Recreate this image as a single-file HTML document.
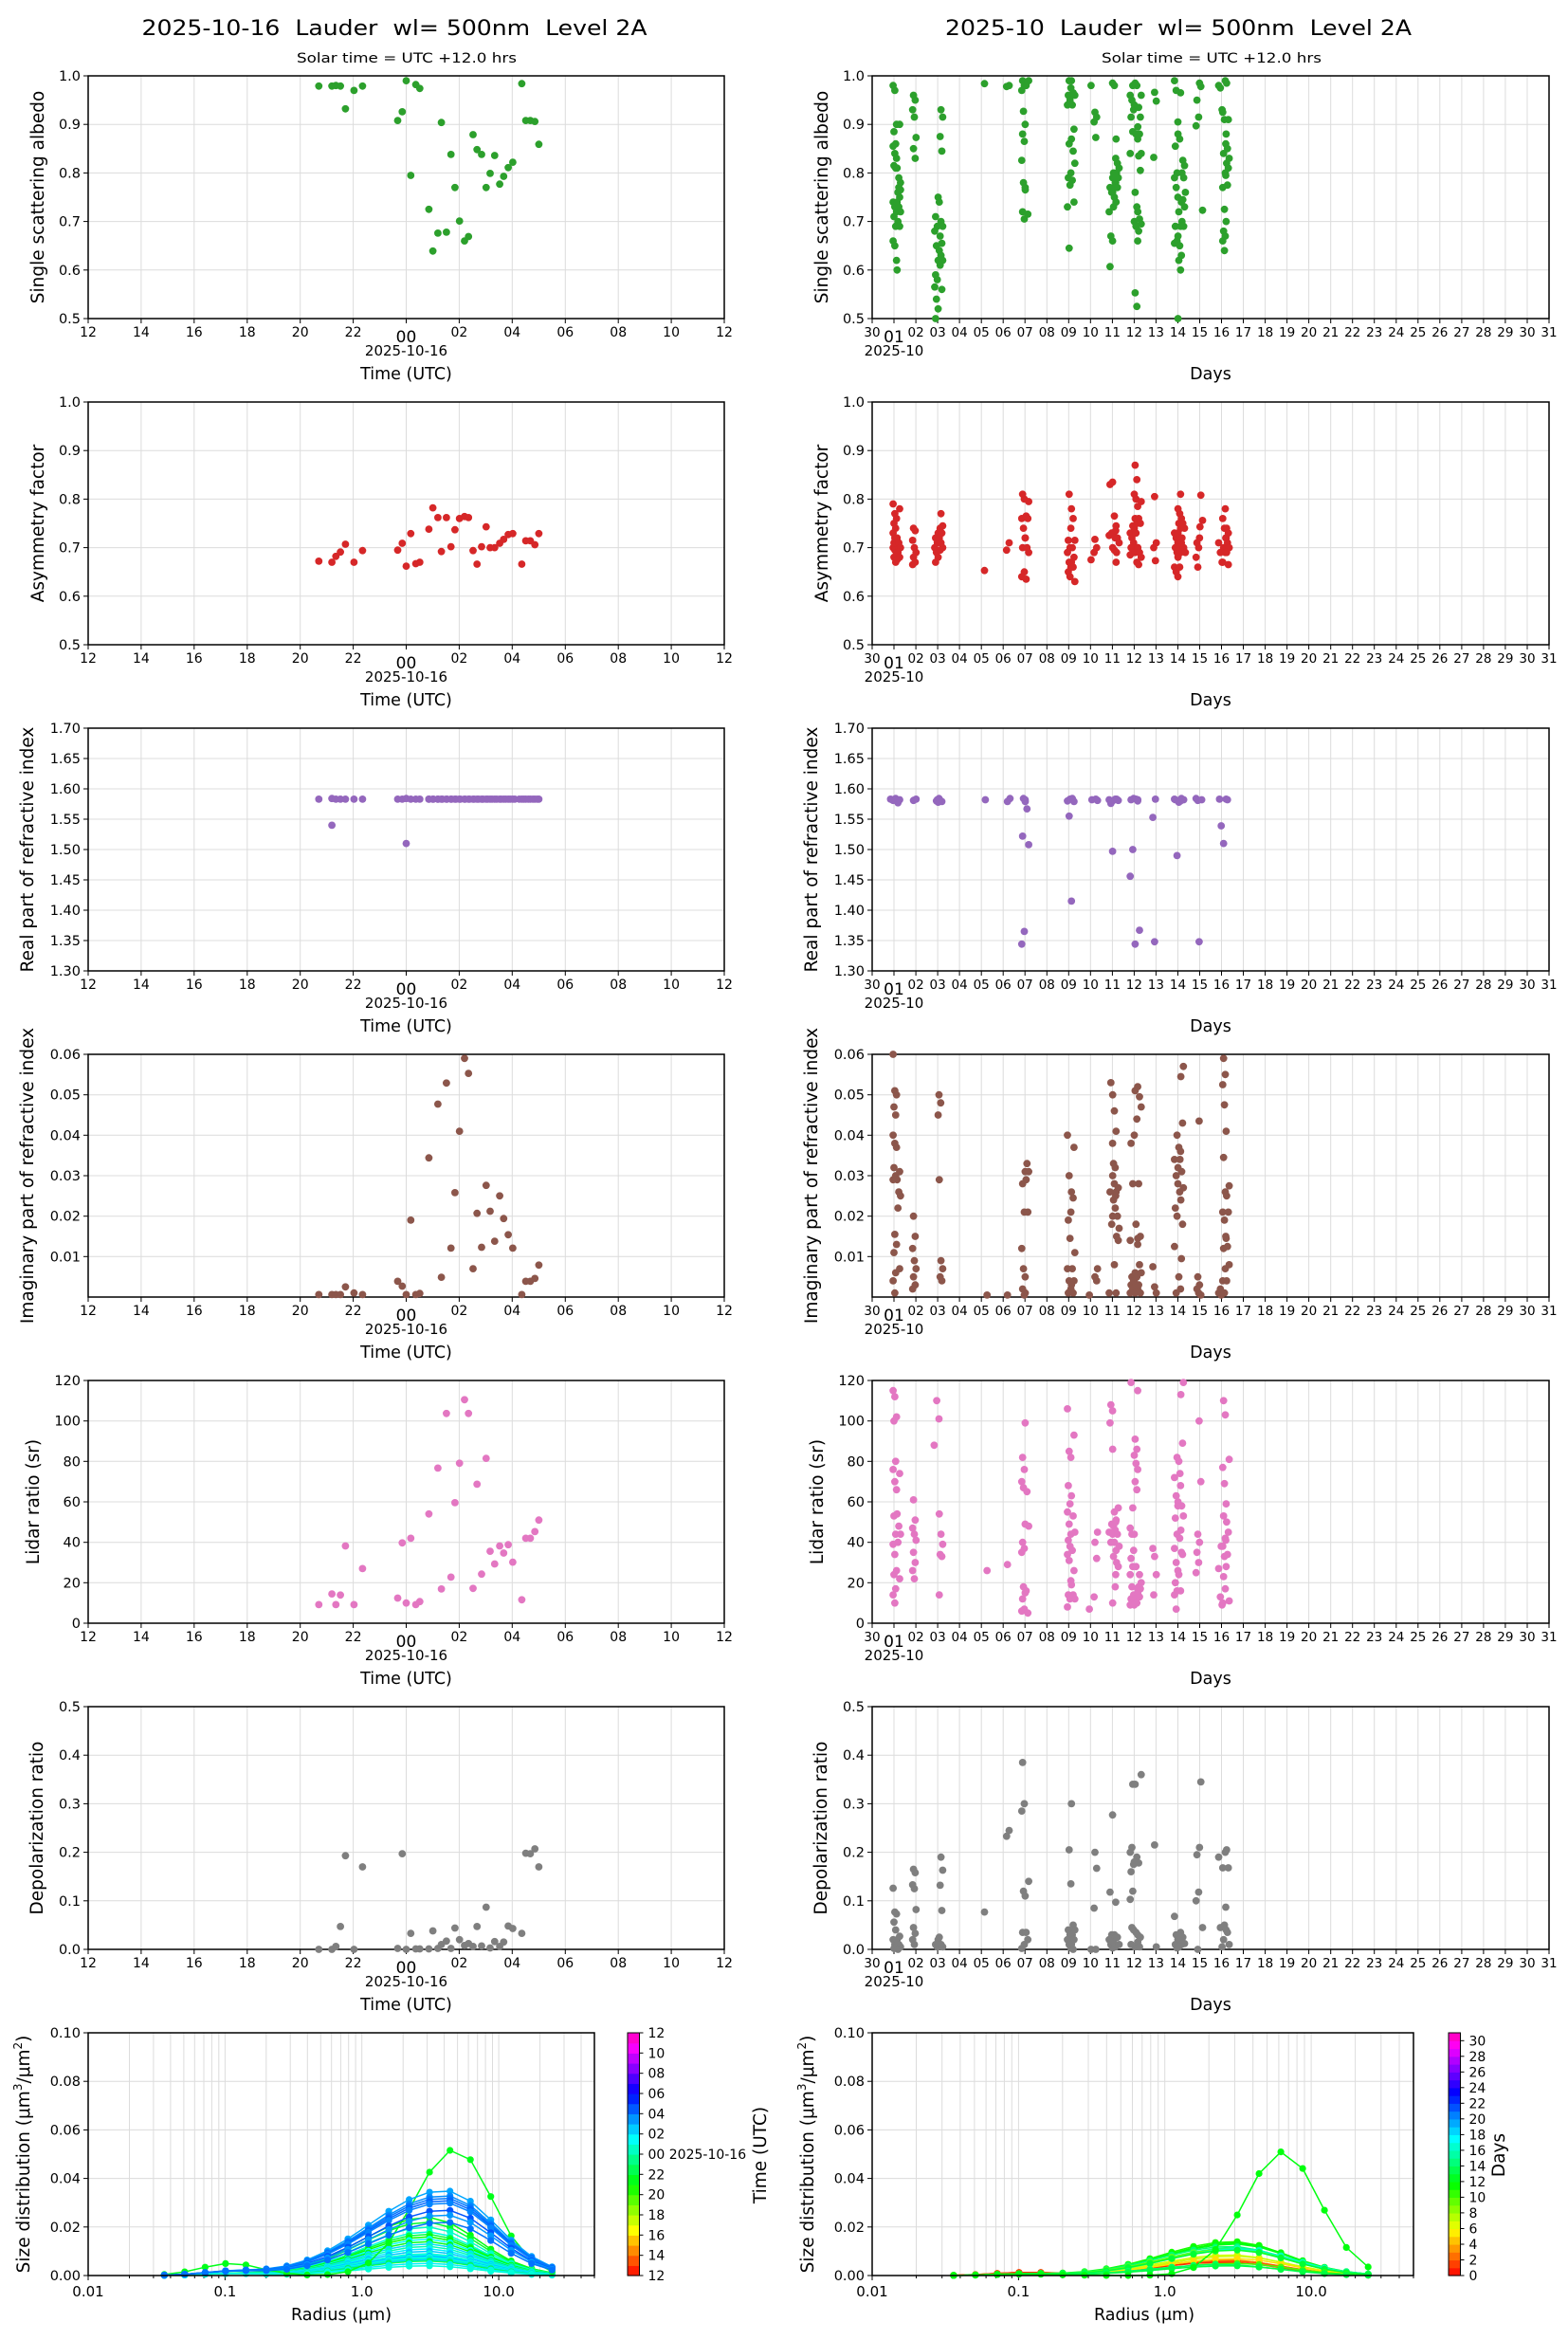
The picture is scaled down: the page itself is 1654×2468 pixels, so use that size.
<!DOCTYPE html>
<html><head><meta charset="utf-8"><style>html,body{margin:0;padding:0;background:#fff}svg{display:block}</style></head>
<body>
<svg id="s" xmlns="http://www.w3.org/2000/svg" width="1654" height="2468" viewBox="0 0 1654 2468"></svg>
<script>
var S='';
var FF='font-family="DejaVu Sans, Liberation Sans, sans-serif"';
function T(x,y,str,size,anc,extra){S+='<text x="'+x.toFixed(1)+'" y="'+y.toFixed(1)+'" font-size="'+size+'" text-anchor="'+(anc||'middle')+'" '+FF+' fill="#000" '+(extra||'')+'>'+str+'</text>';}
function L(x1,y1,x2,y2,c,w){S+='<line x1="'+x1.toFixed(1)+'" y1="'+y1.toFixed(1)+'" x2="'+x2.toFixed(1)+'" y2="'+y2.toFixed(1)+'" stroke="'+c+'" stroke-width="'+w+'"/>';}
function C(x,y,r,c){S+='<circle cx="'+x.toFixed(1)+'" cy="'+y.toFixed(1)+'" r="'+r+'" fill="'+c+'"/>';}
function YL(x,y,str,size,len){T(x,y,str,size,'middle','transform="rotate(-90 '+x+' '+y+')" dominant-baseline="middle"'+(len?' textLength="'+len+'" lengthAdjust="spacingAndGlyphs"':''));}
function hsl(v){return 'hsl('+(v*318).toFixed(0)+',100%,50%)';}

var LX0=93,LX1=764,RX0=920,RX1=1634;
var rows=[
 {lo:0.5,hi:1.0,ticks:[0.5,0.6,0.7,0.8,0.9,1.0],dec:1,lab:'Single scattering albedo',lx:41,col:'#2ca02c',len:233},
 {lo:0.5,hi:1.0,ticks:[0.5,0.6,0.7,0.8,0.9,1.0],dec:1,lab:'Asymmetry factor',lx:41,col:'#d62728',len:131},
 {lo:1.3,hi:1.7,ticks:[1.3,1.35,1.4,1.45,1.5,1.55,1.6,1.65,1.7],dec:2,lab:'Real part of refractive index',lx:30,col:'#9467bd',len:202},
 {lo:0,hi:0.06,ticks:[0.01,0.02,0.03,0.04,0.05,0.06],dec:2,lab:'Imaginary part of refractive index',lx:30,col:'#8c564b',len:0},
 {lo:0,hi:120,ticks:[0,20,40,60,80,100,120],dec:0,lab:'Lidar ratio (sr)',lx:36,col:'#e377c2',len:0},
 {lo:0,hi:0.5,ticks:[0,0.1,0.2,0.3,0.4,0.5],dec:1,lab:'Depolarization ratio',lx:40,col:'#7f7f7f',len:0}
];
function rowTop(i){return 80+344*i;}
var H=256;

function frame(x0,y0,x1,y1){S+='<rect x="'+x0+'" y="'+y0+'" width="'+(x1-x0)+'" height="'+(y1-y0)+'" fill="none" stroke="#000" stroke-width="1.5"/>';}

function hx(h){return LX0+(h+12)/24*(LX1-LX0);}
function dx(d){return RX0+d/31*(RX1-RX0);}

function panel(i,side){
 var r=rows[i],y0=rowTop(i),y1=y0+H;
 var x0=side?RX0:LX0,x1=side?RX1:LX1;
 function Y(v){return y1-(v-r.lo)/(r.hi-r.lo)*H;}
 var xt=[];
 if(!side){for(var h=-12;h<=12;h+=2){var lab=((h+24)%24);lab=(lab<10?'0':'')+lab;xt.push([hx(h),lab,h==0]);}}
 else{for(var d=0;d<=31;d++){var lab=d==0?'30':(d<10?'0'+d:''+d);xt.push([dx(d),lab,d==1]);}}
 xt.forEach(function(t){L(t[0],y0,t[0],y1,'#dcdcdc',1);});
 r.ticks.forEach(function(v){L(x0,Y(v),x1,Y(v),'#dcdcdc',1);});
 frame(x0,y0,x1,y1);
 xt.forEach(function(t){L(t[0],y1,t[0],y1+5,'#000',1);
   if(t[2]) T(t[0],y1+25,t[1],17); else T(t[0],y1+19,t[1],side?13.5:14);});
 r.ticks.forEach(function(v){L(x0-5,Y(v),x0,Y(v),'#000',1);T(x0-8,Y(v)+5,v.toFixed(r.dec),14.5,'end');});
 if(!side){T(hx(0),y1+39,'2025-10-16',15);T(hx(0),y1+64,'Time (UTC)',17.5);}
 else{T(dx(1),y1+39,'2025-10',15);T(1277,y1+64,'Days',17.5);}
 YL((side?827:0)+r.lx,y0+H/2,r.lab,18.5);
 return Y;
}

var lx=[634,660,668,677,687,704,721,791,800,808,817,827,835,853,861,871,878,888,897,905,914,924,932,941,949,958,967,975,984,994,1002,1011,1020,1038,1046,1055,1064,1072];
var N=NaN;
var ld=[
[.979,.979,.98,.979,.932,.970,.979,.908,.926,.99,.795,.982,.974,.725,.639,.676,.904,.678,.838,.77,.701,.660,.669,.879,.848,.838,.77,.799,.836,.777,.793,.811,.822,.984,.908,.908,.906,.859],
[.672,.670,.682,.691,.707,.670,.694,.695,.709,.662,.729,.667,.670,.738,.782,.762,.692,.762,.702,.737,.760,.764,.762,.694,.666,.702,.743,.700,.700,.709,.717,.727,.729,.666,.714,.714,.706,.729],
null,
[.0006,.0006,.0006,.0006,.0025,.001,.0006,.0039,.0027,.0006,.019,.0006,.0009,.0344,N,.0477,.0049,.0529,.0121,.0258,.041,.059,.0553,.007,.0207,.0123,.0276,.0212,.0138,.025,.0194,.0154,.0121,.0006,.0039,.0039,.0046,.0079],
[9.2,14.5,9.2,13.9,38.2,9.2,27,12.4,39.7,10,42,9.2,10.7,54,N,76.7,16.9,103.7,22.8,59.6,79.1,110.5,103.7,17.2,68.7,24.3,81.5,35.6,29.3,38.2,34.7,38.8,30.2,11.6,42,42,45.3,51],
[0,0,.006,.047,.193,0,.17,.002,.197,0,.033,.001,.001,.001,.038,.002,.01,.017,.002,.044,.02,.008,.012,.006,.047,.007,.087,.003,.016,.006,.015,.048,.043,.033,.198,.197,.207,.17]
];
function lhour(x){return (x-175)*24/1266-12;}

var rd=[
"220:.98,.97,.90,.885,.86,.855,.84,.83,.815,.81,.74,.73,.72,.71,.69,.66,.65,.62;228:.90,.81,.79,.78,.76,.75,.74,.73,.72,.70,.69,.60,.77,.765;259:.96,.95,.93,.915,.873,.85,.83;303:.75,.71,.69,.68,.65,.62,.59,.58,.565,.54,.52,.5;312:.93,.915,.875,.845,.74,.70,.69,.67,.655,.64,.63,.62,.61,.56;402:.984;446:.98,.978;476:.99,.98,.97,.927,.90,.88,.865,.826,.78,.77,.72,.705;483:.99,.98,.715,.765;567:.99,.975,.96,.95,.94,.86,.80,.79,.775,.73,.645;575:.99,.965,.96,.94,.89,.87,.845,.82,.785,.74;609:.98;620:.925,.915,.905,.873;650:.985,.77,.76,.72,.67,.66,.607;657:.98,.87,.80,.78,.76,.75,.74,.73,.77,.79;663:.83,.82,.81,.80,.79,.78,.77;692:.98,.96,.95,.93,.915,.885,.84;700:.985,.98,.94,.88,.87,.76,.73,.70,.69,.66,.553,.525;707:.96,.935,.915,.895,.88,.84,.835,.805,.72,.705,.695,.68;737:.966,.948,.832;780:.99,.97,.905,.855,.80,.79,.77,.75,.69,.66,.655;787:.965,.88,.87,.74,.72,.69,.67,.65,.63,.62,.60,.5;795:.826,.815,.80,.79,.76,.745,.73,.70,.69;823:.985,.95,.915,.897;829:.978,.723;868:.98,.975,.93;876:.99,.925,.91,.88,.84,.80,.77,.725,.70,.68,.67,.66,.64;882:.985,.91,.86,.85,.83,.82,.81,.795,.775",
"220:.79,.77,.76,.75,.74,.73,.72,.715,.71,.705,.70,.695,.69,.68,.67;228:.78,.72,.71,.70,.69,.68,.675;259:.74,.735,.715,.70,.69,.68,.67,.665;303:.73,.72,.71,.70,.69,.68,.67;312:.77,.745,.74,.73,.72,.71,.70,.695;402:.653;446:.71,.695;476:.81,.80,.76,.74,.72,.70,.65,.64;483:.795,.765,.76,.72,.70,.69,.635;567:.81,.74,.715,.70,.69,.67,.66,.65,.64;575:.78,.76,.715,.70,.68,.67,.66,.63;609:.675;620:.717,.70,.69;650:.835,.83,.73,.725;657:.765,.745,.73,.72,.70,.695,.67;663:.735,.72,.71,.69;692:.745,.73,.72,.71,.70,.69,.685;700:.87,.84,.81,.80,.785,.76,.75,.74,.73,.70,.69,.67;707:.795,.76,.75,.70,.69,.68,.665;737:.805,.71,.70,.673;780:.73,.72,.71,.70,.69,.66,.65,.64;787:.81,.78,.77,.76,.75,.74,.73,.72,.71,.70,.69,.68,.66;795:.75,.74,.72,.70,.69;823:.72,.71,.70,.68,.66;829:.808,.756,.743;868:.71,.69,.67;876:.78,.76,.74,.72,.70,.69,.67;882:.74,.73,.72,.71,.70,.69,.665",
"215:1.583,1.582;220:1.584,1.581,1.583;228:1.577,1.582;259:1.583,1.581;303:1.58,1.578;308:1.582,1.584;312:1.579,1.583;402:1.582;446:1.584,1.579;476:1.584,1.582,1.522,1.365,1.344;483:1.579,1.567,1.508;567:1.583,1.58,1.555;575:1.584,1.579,1.415;609:1.582;620:1.583,1.581;650:1.582,1.576,1.497;657:1.583,1.58;663:1.583,1.581;692:1.584,1.582,1.50,1.456;700:1.583,1.58,1.344;707:1.582,1.367;737:1.583,1.553,1.348;780:1.582,1.49,1.583;787:1.584,1.578,1.58;795:1.582;823:1.584,1.581;829:1.582,1.348;868:1.583,1.539;876:1.583,1.51;882:1.582",
"220:.06,.051,.05,.047,.045,.04,.038,.037,.032,.03,.029,.0155,.013,.011,.006,.004,.001;228:.031,.029,.026,.025,.022,.007;259:.02,.015,.012,.009,.007,.005,.003,.002;303:.045;308:.05,.048;312:.029,.009,.007,.005,.004;402:.0005;446:.0005;476:.031,.028,.021,.012,.007,.005,.002,.0005;483:.033,.031,.029,.021,.001;567:.04,.03,.021,.019,.0145,.007,.004,.002,.001;575:.037,.026,.0245,.011,.007,.004,.003,.001;609:.0005;620:.007,.005,.004;650:.053,.038,.026,.018,.001;657:.050,.046,.041,.033,.032,.03,.028,.026,.024,.022,.02,.008,.001;663:.027,.025,.02,.017,.015,.014;692:.038,.028,.014,.005,.004,.003,.002,.001;700:.052,.051,.044,.04,.018,.013,.006,.005,.004,.003,.002,.001;707:.0495,.047,.028,.015,.0145,.008,.006,.003,.001;737:.0075,.0025,.001;780:.04,.034,.03,.028,.022,.02,.0125,.001;787:.037,.036,.032,.026,.0095,.005,.002;791:.057,.0545,.043,.034,.031,.027,.024,.018;823:.005,.003,.002,.001;829:.0435,.0005;868:.0005,.001,.002;876:.059,.055,.0525,.0475,.041,.0345,.026,.021,.019,.0145,.012,.007,.004,.001;882:.0275,.025,.021,.015,.0125,.008,.004",
"220:115,112,102,100,80,76,70,66,53,44,39,34,26,24,17,14,10;228:74,54,48,44,40,22;259:61,51,47,44,41,35,30,26,22;300:110,88;308:101;312:54,44,39,34,33,14;402:26;446:29;476:99,82,76,70,67,49,40,37,35,18,15,12,7,6;483:65,48,16,5;567:106,85,82,68,59,55,49,44,41,38,34,31,21,14,12,8;575:93,63,53,45,36,26,19,14,12;609:7;620:45,40,32,13;650:108,105,99,49,45,40;657:86,55,51,48,46,44,40,36,33,18,10;663:57,50,44,38,30,28,24;692:119,57,47,44,36,32,28,24,18,14,12,10,9;700:115,91,86,83,79,76,70,66,44,28,17,12,10,9;707:24,20,18,17,15,13;737:37,33,24,14;780:82,72,63,58,52,44,37,30,26,20,16,14,7;787:80,68,60,42,35,24,16;791:119,113,89,74,58,53,46,34;823:44,40,35,30,25;829:100,70;868:38,27,13,9;876:110,103,77,69,59,53,42,38,33,28,23,17,10;882:81,50,45,41,34,11",
"220:.126,.077,.073,.056,.04,.02,.01,.005,.002;228:.027,.02,.01,.005,0;259:.165,.158,.133,.125,.082,.045,.033,.02,.01;303:.02,.01,.005;312:.19,.163,.132,.08,.025,.01,.005;402:.077;446:.245,.233;476:.385,.30,.285,.12,.11,.035,.01,.002;483:.14,.035,.02;567:.205,.135,.04,.03,.02,.01,.003;575:.30,.05,.04,.03,.02,.01,0;609:0;620:.2,.167,.085,0;650:.277,.118,.03,.02,.01,.003;657:.03,.025,.015,.005;663:.097,.025,.01;692:.34,.2,.21,.175,.16,.12,.103,.045,.04,.01;700:.34,.19,.18,.035,.03,.005;707:.36,.178,.025,.015,.005;737:.215,.005;780:.068,.03,.02,.01,.003;787:.035,.03,.02,.01,.005;795:.025,.012;823:.21,.195,.118,.1,0;829:.345,.045;868:.19,.045,.005;876:.2,.168,.05,.04,.02;882:.205,.168,.087,.035,.01"
];
function rday(x){return (x-175)/1347*31;}

var R0=3.9;
for(var i=0;i<6;i++){
 var r=rows[i];
 var Y=panel(i,0);
 if(i==2){
   lx.forEach(function(x,k){var v=1.583;if(x==660)v=1.54;if(x==808)v=1.51;C(hx(lhour(x)),Y(v),R0,r.col);if(x==660||x==808)C(hx(lhour(x)),Y(1.584),R0,r.col);});
   for(var x=853;x<=1072;x+=9)C(hx(lhour(x)),Y(1.583),R0,r.col);
 } else {
   lx.forEach(function(x,k){var v=ld[i][k];if(!isNaN(v))C(hx(lhour(x)),Y(v),R0,r.col);});
 }
 var Y2=panel(i,1);
 rd[i].split(';').forEach(function(seg,si){
   var p=seg.split(':');var cx=dx(rday(+p[0]));
   p[1].split(',').forEach(function(v,k){var j=((k*7+si*3)%5-2)*0.9;C(cx+j,Y2(+v),R0,r.col);});
 });
}

var rad=[];for(var k=0;k<20;k++)rad.push(0.036*Math.pow(24.5/0.036,k/19));
var LMAX=Math.log10(50)+2;
function sdPanel(x0,x1,xlabx,curves,cb){
 var y0=2144,y1=2400;
 function X(rr){return x0+(Math.log10(rr)+2)/LMAX*(x1-x0);}
 function Y(v){return y1-v/0.1*(y1-y0);}
 for(var e=-2;e<=1;e++)for(var m=1;m<=9;m++){var rr=m*Math.pow(10,e);if(rr>50)break;L(X(rr),y0,X(rr),y1,'#dcdcdc',1);L(X(rr),y1,X(rr),y1+(m==1?5:3),'#000',1);}
 [0,.02,.04,.06,.08,.1].forEach(function(v){L(x0,Y(v),x1,Y(v),'#dcdcdc',1);L(x0-5,Y(v),x0,Y(v),'#000',1);T(x0-8,Y(v)+5,v.toFixed(2),14.5,'end');});
 curves.forEach(function(c){
   var pts=rad.map(function(rr){var lr=Math.log(rr/c.rm);var s=lr<0?c.sl:c.sr;var v=c.A*Math.exp(-lr*lr/(2*s*s));
     var lf=Math.log(rr/0.11);v+=c.f*Math.exp(-lf*lf/(2*0.5*0.5));return [X(rr),Y(v)];});
   S+='<polyline fill="none" stroke="'+c.col+'" stroke-width="1.5" points="'+pts.map(function(p){return p[0].toFixed(1)+','+p[1].toFixed(1);}).join(' ')+'"/>';
   pts.forEach(function(p){C(p[0],p[1],3.6,c.col);});
 });
 frame(x0,y0,x1,y1);
 [[0.01,'0.01'],[0.1,'0.1'],[1,'1.0'],[10,'10.0']].forEach(function(t){T(X(t[0]),y1+22,t[1],15);});
 T(xlabx,2447,'Radius (\u03bcm)',17.5);
 YL(x0-67,(y0+y1)/2,'Size distribution (\u03bcm<tspan dy="-7" font-size="12">3</tspan><tspan dy="7">/\u03bcm</tspan><tspan dy="-7" font-size="12">2</tspan><tspan dy="7">)</tspan>',18.5);
 var cx0=cb.x,cw=12.5,n=cb.n;
 for(var b=0;b<n;b++){var yy=y1-(b+1)*(y1-y0)/n;S+='<rect x="'+cx0+'" y="'+yy.toFixed(2)+'" width="'+cw+'" height="'+((y1-y0)/n+0.6).toFixed(2)+'" fill="'+hsl((b+0.5)/n)+'"/>';}
 S+='<rect x="'+cx0+'" y="'+y0+'" width="'+cw+'" height="'+(y1-y0)+'" fill="none" stroke="#000" stroke-width="1"/>';
 cb.ticks.forEach(function(t){var yy=y1-t[0]*(y1-y0);L(cx0+cw,yy,cx0+cw+4,yy,'#000',1);T(cx0+cw+9,yy+5,t[1],14,'start');});
 YL(cb.lx,2273,cb.lab,18.5);
}
var lc=[];
function hc(h){if(h>12)h-=24;return hsl((h+12)/24);}
var mids=[[.024,21.3],[.022,21.8],[.020,0.5],[.018,1.0],[.017,22.2],[.016,21],[.015,1.5],[.014,21.6],[.013,2.2],[.012,0.2],[.011,1.8],[.010,2.6],[.009,0.8],[.0085,1.2],[.008,2.9],[.0075,1.6],[.007,0.4],[.0065,2.4],[.006,22.5],[.005,1.9],[.004,0.9]];
mids.forEach(function(m){lc.push({A:m[0],rm:3,sl:1.1,sr:.85,f:.0008,col:hc(m[1])});});
lc.push({A:.052,rm:4.8,sl:.68,sr:.62,f:.005,col:hc(21.5)});
var blues=[[.035,3.2],[.033,3.6],[.032,4.0],[.031,4.3],[.030,3.8],[.027,4.6],[.025,3.4],[.022,4.1]];
blues.forEach(function(b){lc.push({A:b[0],rm:4,sl:1.25,sr:.85,f:.0015,col:hc(b[1])});});
sdPanel(93,627,360,lc,{x:662,n:24,lx:803,lab:'Time (UTC)',
 ticks:[[0,'12'],[1/12,'14'],[2/12,'16'],[3/12,'18'],[4/12,'20'],[5/12,'22'],[6/12,'00 2025-10-16'],[7/12,'02'],[8/12,'04'],[9/12,'06'],[10/12,'08'],[11/12,'10'],[1,'12']]});
var rc=[];
var rm=[[.0065,3.1,2.6],[.006,2.1,2.8],[.0055,1.1,2.6],[.0085,6.9,2.8],[.008,7.1,3],[.007,5.2,3],[.014,11.2,2.9],[.0135,11.5,3],[.013,12.2,3],[.012,14.1,2.8],[.0115,15.1,3],[.011,9.2,2.9],[.011,16.1,3.2],[.0105,12.9,3],[.005,10.1,3],[.0045,14.0,2.5],[.004,13.2,2.8]];
rm.forEach(function(m){rc.push({A:m[0],rm:m[2],sl:1.1,sr:.85,f:m[1]<4?.0012:.0006,col:hsl(m[1]/31)});});
rc.push({A:.051,rm:6.4,sl:.6,sr:.58,f:.0006,col:hsl(12/31)});
var rt=[];for(var d=0;d<=30;d+=2)rt.push([d/31,''+d]);
sdPanel(920,1491,1207,rc,{x:1528,n:31,lx:1582,lab:'Days',ticks:rt});

T(416,37,'2025-10-16  Lauder  wl= 500nm  Level 2A',22.5,'middle','xml:space="preserve" textLength="533" lengthAdjust="spacingAndGlyphs"');
T(1243,37,'2025-10  Lauder  wl= 500nm  Level 2A',22.5,'middle','xml:space="preserve" textLength="492" lengthAdjust="spacingAndGlyphs"');
T(429,66,'Solar time = UTC +12.0 hrs',14.5,'middle','textLength="232" lengthAdjust="spacingAndGlyphs"');
T(1278,66,'Solar time = UTC +12.0 hrs',14.5,'middle','textLength="232" lengthAdjust="spacingAndGlyphs"');

document.getElementById('s').innerHTML=S;
</script>
</body></html>
